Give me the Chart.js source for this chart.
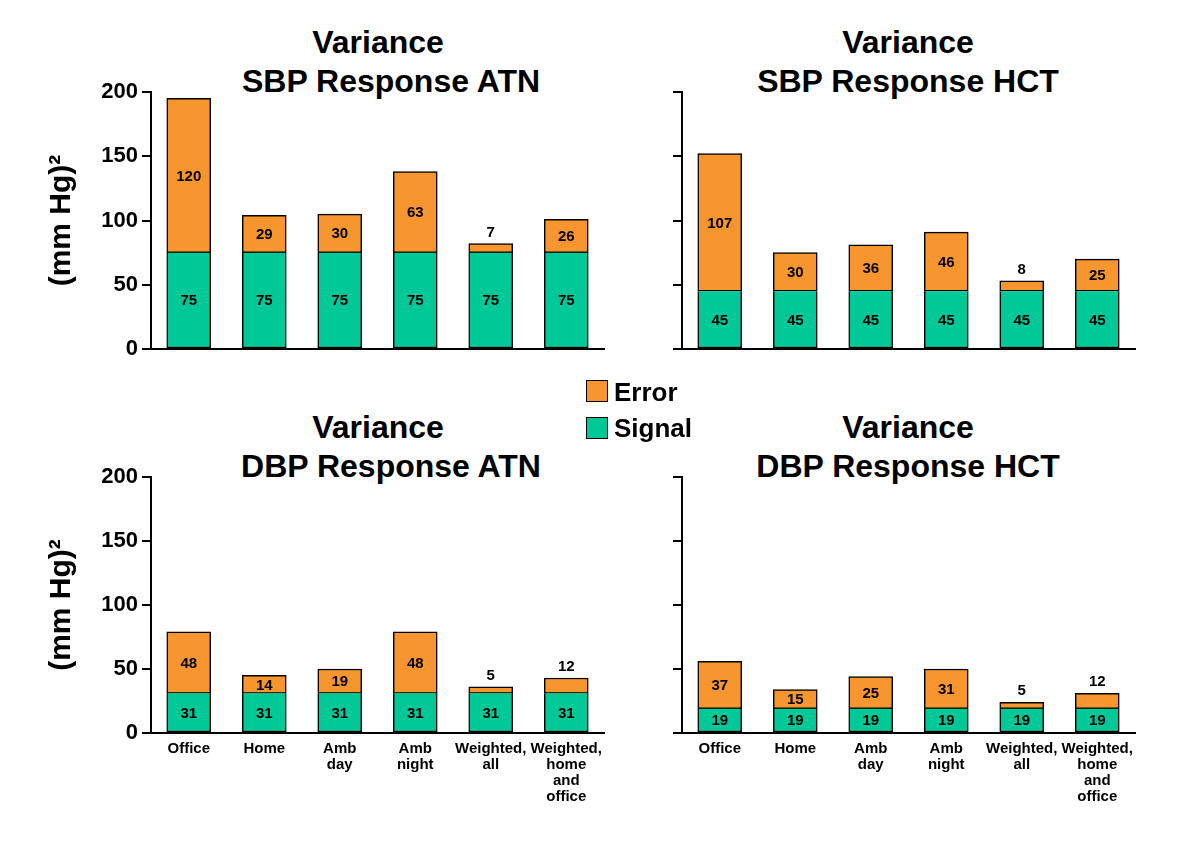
<!DOCTYPE html>
<html>
<head>
<meta charset="utf-8">
<script src="https://cdn.jsdelivr.net/npm/chart.js@4.4.0/dist/chart.umd.min.js"></script>
<style>
  body{margin:0;background:#fff;width:1200px;height:857px;position:relative;overflow:hidden;font-family:"Liberation Sans",Arial,sans-serif;color:#000;}
  canvas{position:absolute;}
  .t{position:absolute;font-weight:bold;font-size:32px;line-height:40px;white-space:nowrap;transform:translateX(-50%);}
  .lg{position:absolute;font-weight:bold;font-size:26px;line-height:30px;white-space:nowrap;}
  .box{position:absolute;width:20px;height:20px;border:1.5px solid #000;}
</style>
</head>
<body>
<div class="t" style="left:378px;top:22px">Variance</div>
<div class="t" style="left:391px;top:61px">SBP Response ATN</div>
<div class="t" style="left:908px;top:22px">Variance</div>
<div class="t" style="left:908px;top:61px">SBP Response HCT</div>
<div class="t" style="left:378px;top:407px">Variance</div>
<div class="t" style="left:391px;top:446px">DBP Response ATN</div>
<div class="t" style="left:908px;top:407px">Variance</div>
<div class="t" style="left:908px;top:446px">DBP Response HCT</div>

<canvas id="c1" width="620" height="420" style="left:0;top:0"></canvas>
<canvas id="c2" width="620" height="420" style="left:531px;top:0"></canvas>
<canvas id="c3" width="620" height="440" style="left:0;top:385px"></canvas>
<canvas id="c4" width="620" height="440" style="left:531px;top:385px"></canvas>

<div class="box" style="left:586px;top:380px;background:#F7962F"></div>
<div class="lg" style="left:614px;top:377px">Error</div>
<div class="box" style="left:586px;top:417px;background:#00C896"></div>
<div class="lg" style="left:614px;top:413px">Signal</div>

<script>
const categories = [["Office"], ["Home"], ["Amb", "day"], ["Amb", "night"], ["Weighted,", "all"], ["Weighted,", "home", "and", "office"]];
const yTickLabels = ["0", "50", "100", "150", "200"];
const seriesNames = ["Signal", "Error"];

const sbpAtnSignal = [75, 75, 75, 75, 75, 75];
const sbpAtnError  = [120, 29, 30, 63, 7, 26];
const sbpHctSignal = [45, 45, 45, 45, 45, 45];
const sbpHctError  = [107, 30, 36, 46, 8, 25];
const dbpAtnSignal = [31, 31, 31, 31, 31, 31];
const dbpAtnError  = [48, 14, 19, 48, 5, 12];
const dbpHctSignal = [19, 19, 19, 19, 19, 19];
const dbpHctError  = [37, 15, 25, 31, 5, 12];

const FONT = '"Liberation Sans", Arial, sans-serif';
const ORANGE = '#F7962F';
const GREEN = '#00C896';

const valueLabels = {
  id: 'valueLabels',
  afterDatasetsDraw(chart) {
    const ctx = chart.ctx;
    ctx.save();
    ctx.font = 'bold 15px ' + FONT;
    ctx.fillStyle = '#000';
    ctx.textAlign = 'center';
    chart.data.datasets.forEach((ds, di) => {
      const meta = chart.getDatasetMeta(di);
      meta.data.forEach((el, i) => {
        const v = ds.data[i];
        const top = el.y, base = el.base;
        const h = base - top;
        if (di === 1 && h < 16) {
          ctx.textBaseline = 'alphabetic';
          ctx.fillText(String(v), el.x, top - 7);
        } else {
          ctx.textBaseline = 'middle';
          ctx.fillText(String(v), el.x, (top + base) / 2 + 1);
        }
      });
    });
    ctx.restore();
  }
};

function makePanel(id, signal, error, showY, showX) {
  new Chart(document.getElementById(id), {
    type: 'bar',
    data: {
      labels: categories,
      datasets: [
        { label: seriesNames[0], data: signal, backgroundColor: GREEN, borderColor: '#000', borderWidth: 1.5, borderSkipped: 'top', barThickness: 44 },
        { label: seriesNames[1], data: error, backgroundColor: ORANGE, borderColor: '#000', borderWidth: 1.5, borderSkipped: false, barThickness: 44 }
      ]
    },
    options: {
      responsive: false,
      animation: false,
      layout: { padding: { top: 92, right: 16, left: 0, bottom: showX ? 12 : 71 } },
      plugins: { legend: { display: false }, tooltip: { enabled: false } },
      scales: {
        x: {
          stacked: true,
          grid: { display: false },
          border: { display: true, color: '#000', width: 2 },
          ticks: {
            display: showX, color: '#000', maxRotation: 0, minRotation: 0, autoSkip: false, padding: 0,
            font: { family: FONT, weight: 'bold', size: 15, lineHeight: '16px' }
          },
          afterFit: s => { s.height = showX ? 80 : 0; }
        },
        y: {
          stacked: true, min: 0, max: 200,
          grid: { drawOnChartArea: false, drawTicks: true, tickLength: 9, lineWidth: 2, color: '#000' },
          border: { display: true, color: '#000', width: 2 },
          ticks: {
            stepSize: 50, color: '#000', padding: 4,
            font: { family: FONT, weight: 'bold', size: 22 },
            callback: (v, i) => showY ? yTickLabels[i] : ''
          },
          title: {
            display: showY, text: '(mm Hg)²', color: '#000',
            font: { family: FONT, weight: 'bold', size: 30 },
            padding: { top: 44, bottom: 0 }
          },
          afterFit: s => { s.width = 151; }
        }
      }
    },
    plugins: [valueLabels]
  });
}

makePanel('c1', sbpAtnSignal, sbpAtnError, true, false);
makePanel('c2', sbpHctSignal, sbpHctError, false, false);
makePanel('c3', dbpAtnSignal, dbpAtnError, true, true);
makePanel('c4', dbpHctSignal, dbpHctError, false, true);
</script>
</body>
</html>
